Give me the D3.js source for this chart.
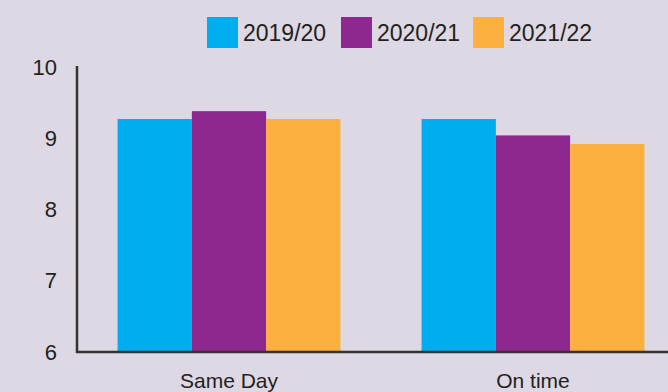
<!DOCTYPE html>
<html>
<head>
<meta charset="utf-8">
<script src="https://cdnjs.cloudflare.com/ajax/libs/d3/7.8.5/d3.min.js"></script>
<style>
  html, body { margin: 0; padding: 0; background: #ddd8e3; }
  svg { display: block; font-family: "Liberation Sans", Arial, sans-serif; }
</style>
</head>
<body>
<svg id="chart" width="668" height="392"></svg>
<script>
// data
var categories = ["Same Day", "On time"];
var seriesNames = ["2019/20", "2020/21", "2021/22"];
var seriesColors = ["#00aeef", "#8e278f", "#fbb040"];
var values2019 = [9.27, 9.27];
var values2020 = [9.38, 9.04];
var values2021 = [9.27, 8.92];
var yTicks = [6, 7, 8, 9, 10];

var seriesValues = [values2019, values2020, values2021];
var rows = categories.map(function (c, i) {
    return { cat: c, vals: seriesNames.map(function (s, j) { return { key: s, v: seriesValues[j][i], color: seriesColors[j] }; }) };
});

var svg = d3.select("#chart");
var mLeft = 77, mRight = 685, mTop = 67, mBottom = 352;

var x0 = d3.scaleBand().domain(categories).range([mLeft, mRight]).paddingInner(0.267).paddingOuter(0.1335);
var x1 = d3.scaleBand().domain(seriesNames).range([0, x0.bandwidth()]);
var y = d3.scaleLinear().domain([6, 10]).range([mBottom, mTop]);

// bars
svg.append("g").selectAll("g").data(rows).enter().append("g")
    .attr("transform", function (d) { return "translate(" + x0(d.cat) + ",0)"; })
    .selectAll("rect").data(function (d) { return d.vals; }).enter().append("rect")
    .attr("x", function (d) { return x1(d.key); })
    .attr("width", x1.bandwidth())
    .attr("y", function (d) { return y(d.v); })
    .attr("height", function (d) { return y(6) - y(d.v); })
    .attr("fill", function (d) { return d.color; });

// y axis
var yAxis = svg.append("g").attr("transform", "translate(" + mLeft + ",0)")
    .call(d3.axisLeft(y).tickValues(yTicks).tickSize(0).tickPadding(20).tickFormat(d3.format("d")));
yAxis.select(".domain").attr("stroke", "#333").attr("stroke-width", 2.5).attr("d", "M0," + (mTop - 1) + "V" + (mBottom + 1));
yAxis.selectAll("text").attr("font-size", 22).attr("fill", "#231f20").attr("font-family", "Liberation Sans, Arial, sans-serif");

// x axis
var xAxis = svg.append("g").attr("transform", "translate(0," + mBottom + ")")
    .call(d3.axisBottom(x0).tickSize(0));
xAxis.select(".domain").attr("stroke", "#333").attr("stroke-width", 2.5).attr("d", "M" + (mLeft - 1) + ",0H668");
xAxis.selectAll("text").attr("y", 36).attr("dy", 0).attr("font-size", 21).attr("fill", "#231f20").attr("font-family", "Liberation Sans, Arial, sans-serif");

// legend
var legendX = [207, 341, 473];
var legend = svg.append("g").selectAll("g").data(seriesNames).enter().append("g")
    .attr("transform", function (d, i) { return "translate(" + legendX[i] + ",17)"; });
legend.append("rect").attr("width", 31).attr("height", 31)
    .attr("fill", function (d, i) { return seriesColors[i]; });
legend.append("text").attr("x", 36).attr("y", 16).attr("dy", "0.35em")
    .attr("font-size", 23).attr("fill", "#231f20")
    .text(function (d) { return d; });
</script>
</body>
</html>
